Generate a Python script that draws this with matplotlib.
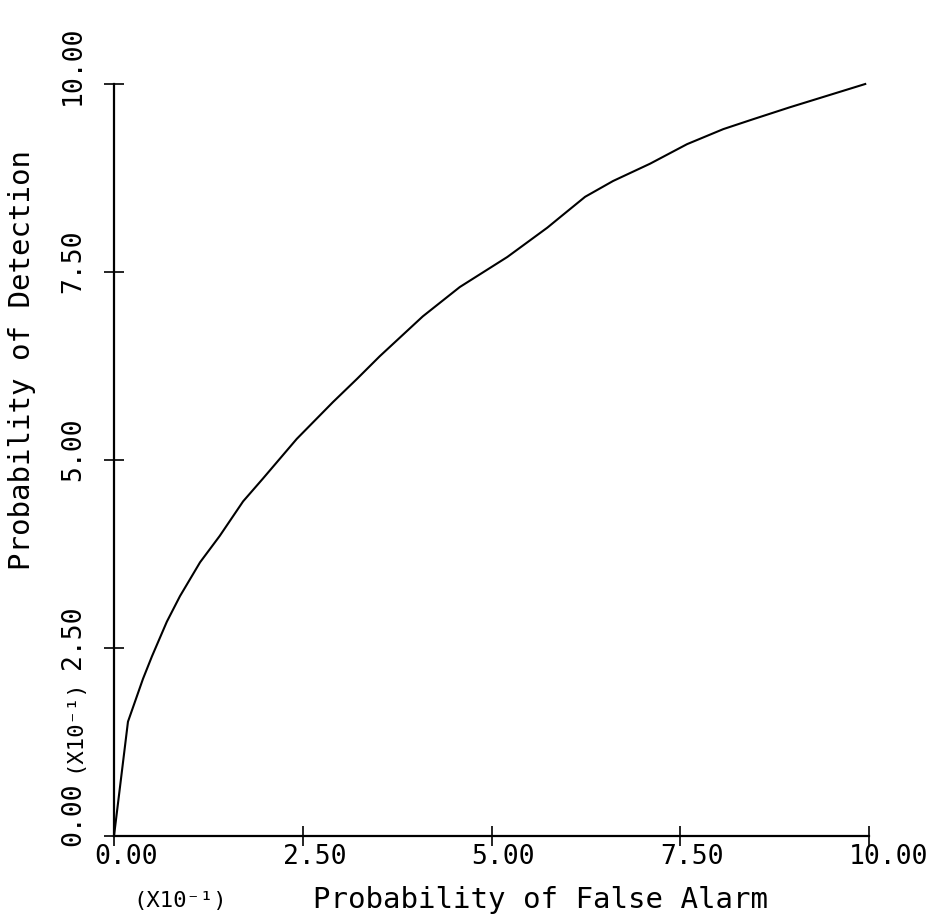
import matplotlib
matplotlib.use("Agg")
import matplotlib.pyplot as plt
from matplotlib.transforms import ScaledTranslation

# Data
pfa = [0.0, 0.185, 0.384, 0.503, 0.70, 0.874, 1.14, 1.40, 1.71, 1.97, 2.42, 2.90,
       3.22, 3.52, 4.09, 4.58, 5.21, 5.74, 5.91, 6.24, 6.61, 7.10, 7.59, 8.07,
       8.46, 8.95, 9.95]
pd_ = [0.0, 1.52, 2.09, 2.39, 2.85, 3.19, 3.64, 3.99, 4.45, 4.75, 5.28, 5.77,
       6.08, 6.38, 6.91, 7.30, 7.70, 8.09, 8.23, 8.50, 8.71, 8.94, 9.20, 9.40,
       9.53, 9.69, 10.0]
xticks = [0.0, 2.5, 5.0, 7.5, 10.0]
yticks = [0.0, 2.5, 5.0, 7.5, 10.0]
xticklabels = ["0.00", "2.50", "5.00", "7.50", "10.00"]
yticklabels = ["0.00", "2.50", "5.00", "7.50", "10.00"]
xlabel = "Probability of False Alarm"
ylabel = "Probability of Detection"
scale_txt = "(X10\u207b\u00b9)"

W, H = 946, 920
fig = plt.figure(figsize=(W / 100, H / 100), dpi=100)
ax = fig.add_axes([114 / W, 1 - 837 / H, (869 - 114) / W, (837 - 85) / H])
ax.plot(pfa, pd_, color="black", lw=1.5, clip_on=False)
ax.set_xlim(0, 10)
ax.set_ylim(0, 10)
for s in ("top", "right"):
    ax.spines[s].set_visible(False)
for s in ("left", "bottom"):
    ax.spines[s].set_linewidth(1.6)
ax.set_xticks(xticks)
ax.set_yticks(yticks)
ax.tick_params(direction="inout", length=14, width=1.2, labelbottom=False, labelleft=False)

mono = "DejaVu Sans Mono"
tsize = 19


def px(dx, dy):
    return ScaledTranslation(dx / 100, dy / 100, fig.dpi_scale_trans)


xtr = ax.get_xaxis_transform()
for v, lab in zip(xticks, xticklabels):
    ax.text(v, 0, lab, transform=xtr + px(-20, -20), ha="left", va="center",
            family=mono, fontsize=tsize)

ytr = ax.get_yaxis_transform()
for i, (v, lab) in enumerate(zip(yticks, yticklabels)):
    dy = -9 if i == 0 else -20
    ax.text(0, v, lab, transform=ytr + px(-41, dy), ha="center", va="bottom",
            rotation=90, family=mono, fontsize=tsize)

fig.text(540 / W, 1 - 900 / H, xlabel, ha="center", va="center", family=mono, fontsize=21)
fig.text(22 / W, 1 - 360 / H, ylabel, ha="center", va="center", rotation=90,
         family=mono, fontsize=21)
fig.text(180 / W, 1 - 901 / H, scale_txt, ha="center", va="center", family=mono, fontsize=16)
fig.text(73 / W, 1 - 725 / H, scale_txt, ha="center", va="center", rotation=90,
         family=mono, fontsize=16)

fig.savefig("out.png", dpi=100, facecolor="white")
